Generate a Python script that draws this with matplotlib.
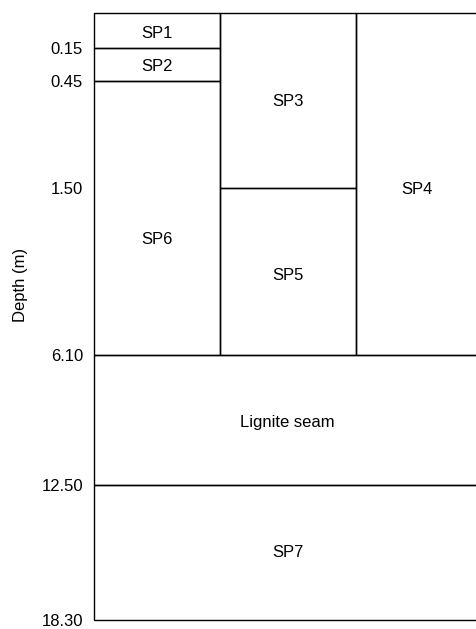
import numpy as np
import matplotlib.pyplot as plt
from matplotlib.patches import Rectangle

plt.rcParams['font.family'] = ['Liberation Sans', 'DejaVu Sans']

# Depth ticks (m) and where they sit on the schematic (non-linear) axis
tick_depths = [0.0, 0.15, 0.45, 1.50, 6.10, 12.50, 18.30]
tick_labels = ['', '0.15', '0.45', '1.50', '6.10', '12.50', '18.30']
schematic_pos = [0, 35, 68, 175, 342, 472, 607]

# Layers: name, column start, column end, top depth, bottom depth, label depth
names = ['SP1', 'SP2', 'SP6', 'SP3', 'SP5', 'SP4', 'Lignite seam', 'SP7']
col_start = [0, 0, 0, 1, 1, 2, 0, 0]
col_end = [1, 1, 1, 2, 2, 3, 3, 3]
top = [0.0, 0.15, 0.45, 0.0, 1.50, 0.0, 6.10, 12.50]
bottom = [0.15, 0.45, 6.10, 1.50, 6.10, 6.10, 12.50, 18.30]
label_depth = [0.086, 0.314, 2.93, 0.656, 3.92, 1.555, 9.40, 15.38]

col_edges = [0, 126, 262, 400]   # last column runs off the page
x_max = 383


def fwd(d):
    return np.interp(d, tick_depths, schematic_pos)


def inv(p):
    return np.interp(p, schematic_pos, tick_depths)


fig = plt.figure(figsize=(4.77, 6.29), dpi=100)
ax = fig.add_axes([94 / 477, 1 - 620 / 629, 1 - 94 / 477, 607 / 629])
ax.set_yscale('function', functions=(fwd, inv))
ax.set_ylim(18.30, 0.0)
ax.set_xlim(0, x_max)

for i, name in enumerate(names):
    x0 = col_edges[col_start[i]]
    x1 = col_edges[col_end[i]]
    ax.add_patch(Rectangle((x0, top[i]), x1 - x0, bottom[i] - top[i],
                           facecolor='none', edgecolor='black', lw=1.0,
                           clip_on=False))
    xc = (x0 + min(x1, x_max)) / 2
    if col_start[i] == 0 and col_end[i] == 3:
        xc += 2
    ax.text(xc, label_depth[i], name, ha='center', va='center', fontsize=12)

for s in ax.spines.values():
    s.set_visible(False)
ax.set_xticks([])
ax.set_yticks(tick_depths)
ax.set_yticklabels(tick_labels, fontsize=12)
ax.tick_params(axis='y', length=0, pad=8)
ax.set_ylabel('Depth (m)', fontsize=12, va='center')
ax.yaxis.set_label_coords(-0.193, 0.552)

fig.savefig('out.png', dpi=100)
